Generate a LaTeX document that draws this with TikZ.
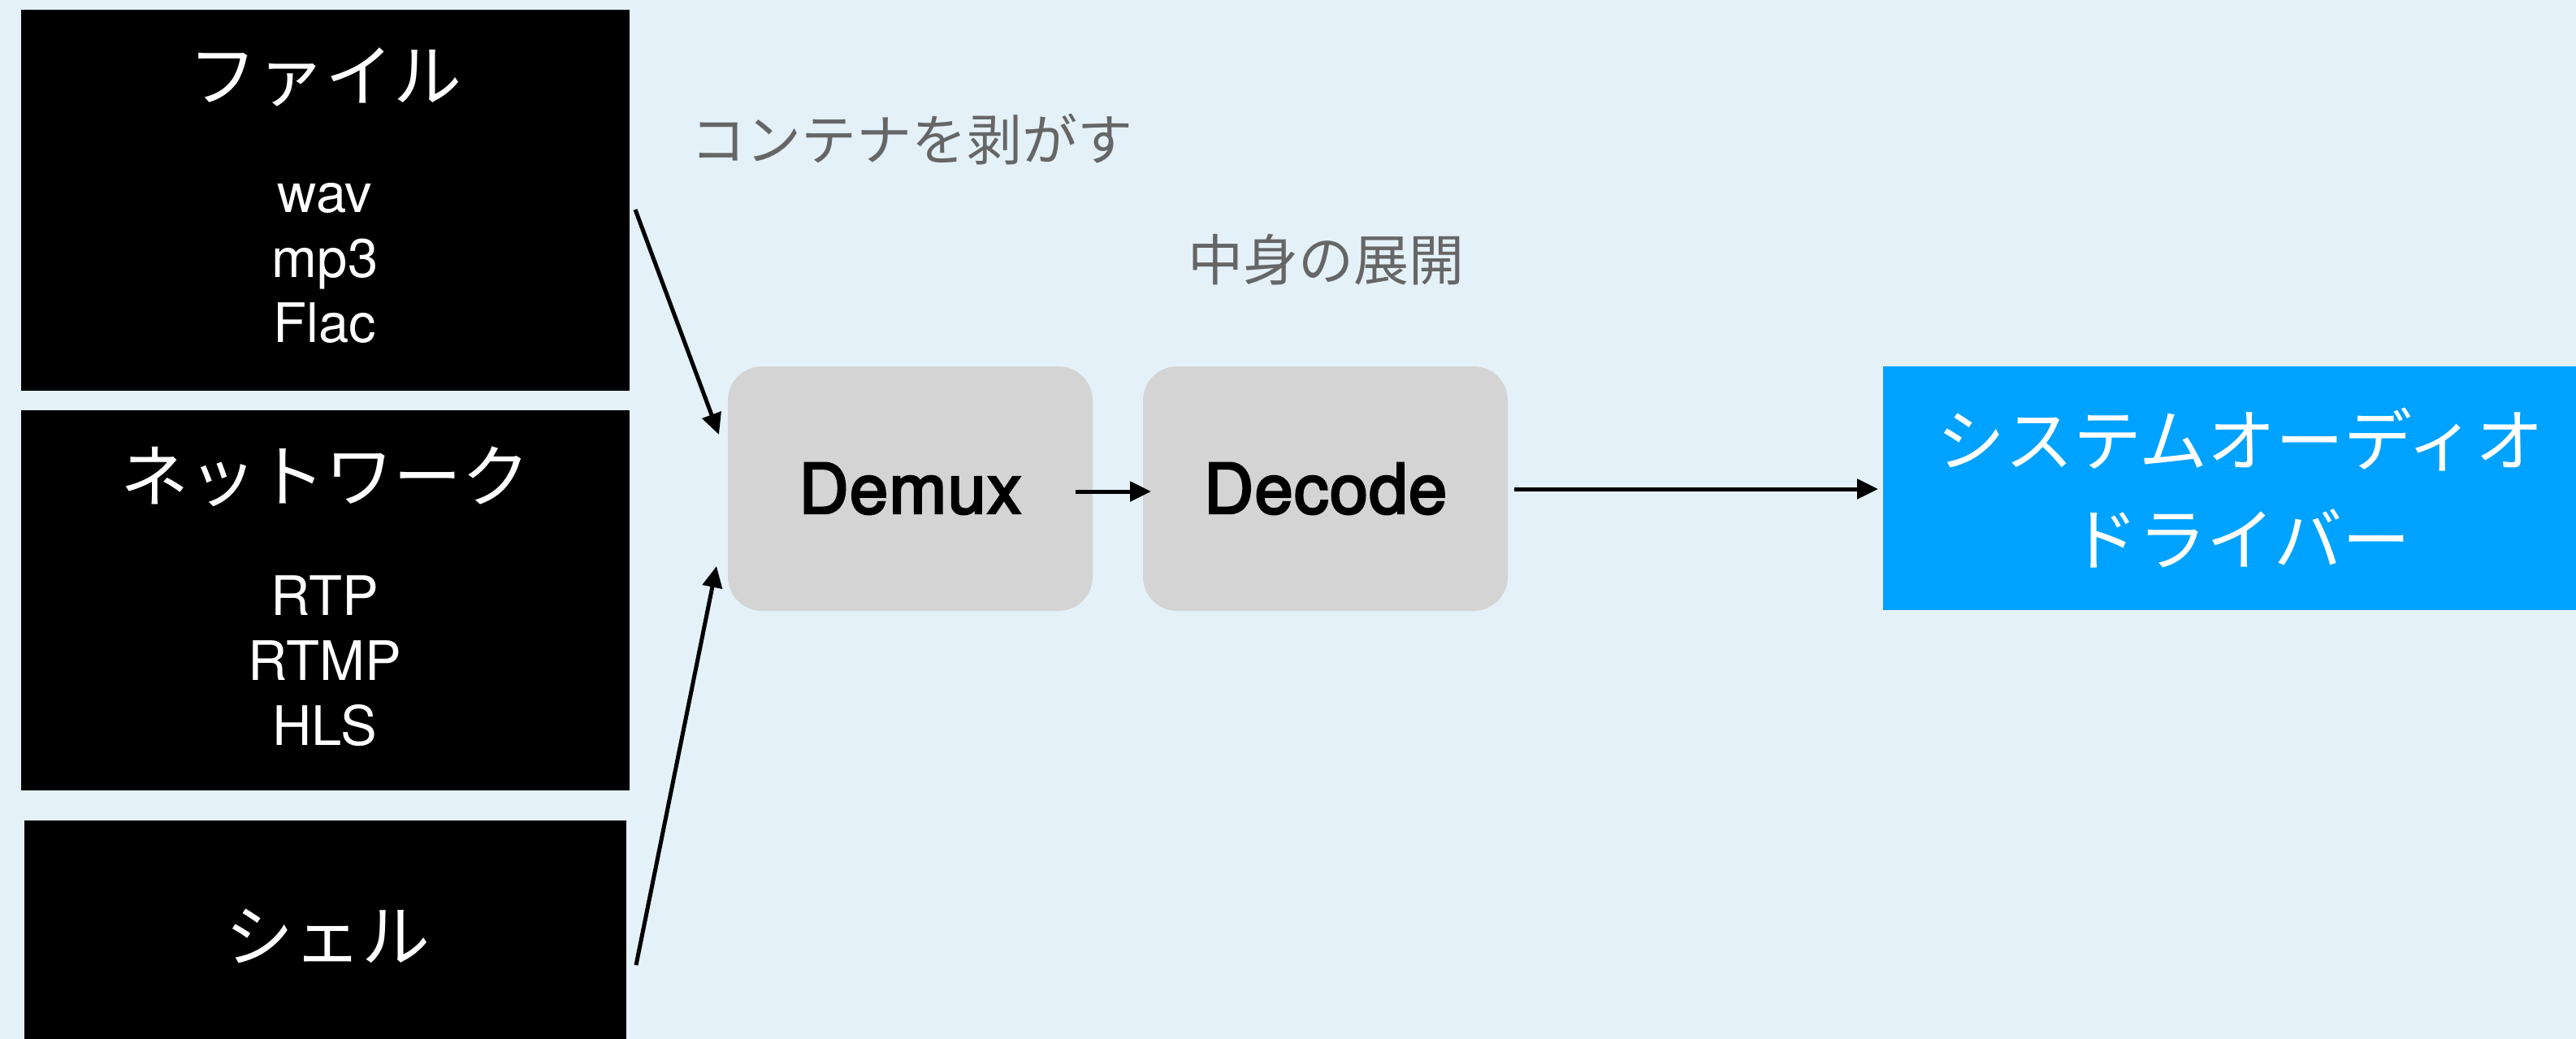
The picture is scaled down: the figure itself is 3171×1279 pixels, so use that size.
\documentclass[tikz,border=0pt]{standalone}
\usepackage{fontspec}
\setmainfont{TeX Gyre Heros}
\newfontfamily\jp{Noto Sans CJK JP}
\newfontfamily\procfont{TeX Gyre Heros}[FakeBold=3.2,LetterSpace=1.5]
\usetikzlibrary{arrows.meta}
\definecolor{bg}{HTML}{E4F1F8}
\definecolor{greybox}{HTML}{D4D4D4}
\definecolor{bluebox}{HTML}{00A2FF}
\definecolor{labelgrey}{HTML}{666666}
\begin{document}
\begin{tikzpicture}[x=1pt,y=-1pt,
  srcbox/.style={fill=black,draw=none,inner sep=0pt,minimum width=749pt},
  srctitle/.style={text=white,inner sep=0pt,font=\jp\fontsize{84}{100}\selectfont},
  srcitem/.style={text=white,inner sep=0pt,anchor=base,font=\fontsize{67}{80}\selectfont},
  procbox/.style={fill=greybox,draw=none,rounded corners=42pt,minimum width=449pt,minimum height=301pt,inner sep=0pt,font=\procfont\fontsize{85}{100}\selectfont},
  outbox/.style={fill=bluebox,draw=none,minimum width=880pt,minimum height=300pt,inner sep=0pt,text=white,align=center,font=\jp\fontsize{84}{122}\selectfont},
  steplabel/.style={text=labelgrey,inner sep=0pt,font=\jp\fontsize{68}{80}\selectfont},
  arr/.style={line width=5pt,-{Triangle[length=26pt,width=24pt]}}
]
\useasboundingbox (0,0) rectangle (3171,1279);
\clip (0,0) rectangle (3171,1279);
\fill[bg] (0,0) rectangle (3171,1279);

% source boxes
\node[srcbox,minimum height=469pt] (file) at (400.5,246.5) {};
\node[srctitle] (filet) at (400,95) {ファイル};
\node[srcitem] (wav) at (400,261) {wav};
\node[srcitem] (mp3) at (400,341) {mp3};
\node[srcitem] (flac) at (400,421) {Flac};

\node[srcbox,minimum height=468pt] (net) at (400.5,739) {};
\node[srctitle] (nett) at (400,587) {ネットワーク};
\node[srcitem] (rtp) at (400,757) {RTP};
\node[srcitem] (rtmp) at (400,837) {RTMP};
\node[srcitem] (hls) at (400,917) {HLS};

\node[srcbox,minimum width=741pt,minimum height=290pt] (shell) at (400.5,1155) {};
\node[srctitle] (shellt) at (403,1152) {シェル};

% processing boxes
\node[procbox] (demux) at (1120.5,601.5) {Demux};
\node[procbox] (decode) at (1631.5,601.5) {Decode};

% output box
\node[outbox] (out) at (2758,601) {システムオーディオ\\ドライバー};

% step labels
\node[steplabel] (lab1) at (1122,171) {コンテナを剥がす};
\node[steplabel] (lab2) at (1632,320) {中身の展開};

% connectors
\coordinate (a1s) at (782,258);
\coordinate (a1e) at (885,535);
\coordinate (a2s) at (783,1188);
\coordinate (a2e) at (882,697);
\coordinate (a3s) at (1324,605);
\coordinate (a3e) at (1417,605);
\coordinate (a4s) at (1864,602);
\coordinate (a4e) at (2312,602);
\draw[arr] (a1s) -- (a1e);
\draw[arr] (a2s) -- (a2e);
\draw[arr] (a3s) -- (a3e);
\draw[arr] (a4s) -- (a4e);
\end{tikzpicture}
\end{document}
